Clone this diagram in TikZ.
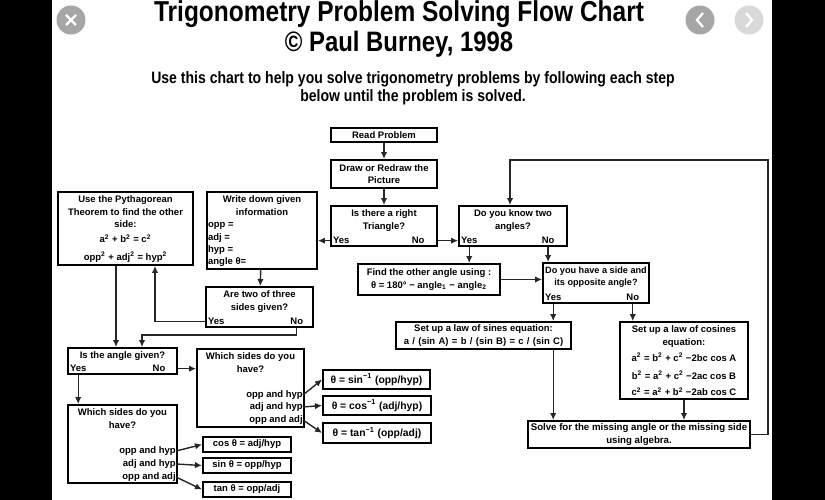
\documentclass[tikz,border=0pt]{standalone}
\usepackage{fontspec}
\setmainfont{Liberation Sans}
\newfontfamily\titlefont[FakeStretch=0.85]{Liberation Sans}
\usepackage{tikz}
\usetikzlibrary{arrows.meta,positioning}

\tikzset{
  box/.style={rectangle, draw, line width=1.1pt, inner sep=0pt},
  txt/.style={inner sep=0pt, font=\fontsize{5.4}{7.1}\selectfont\bfseries, align=center},
  txtbig/.style={txt, font=\fontsize{5.9}{7.1}\selectfont\bfseries},
  heading/.style={inner sep=0pt, font=\titlefont\fontsize{#1}{#1}\selectfont\bfseries},
  conn/.style={draw, line width=0.8pt, black!85, -{Latex[length=4pt,width=3.7pt]}},
  roundbtn/.style={circle, fill=#1, minimum size=0.58cm, inner sep=0pt},
  icon/.style={white, line width=1.3pt}
}

\begin{document}
\begin{tikzpicture}[x=0.02cm, y=-0.02cm]
    \useasboundingbox (0,0) rectangle (825,500);

    % Page
    \fill[black] (0,0) rectangle (825,500);
    \fill[white] (52,0) rectangle (772,500);

    % Buttons
    \node[roundbtn=black!35] (closebtn) at (71,20) {};
    \node[roundbtn=black!35] (prevbtn) at (700,20) {};
    \node[roundbtn=black!15] (nextbtn) at (749,20) {};
    \draw[icon] ([shift={(-5,-5)}]closebtn.center) -- ([shift={(5,5)}]closebtn.center);
    \draw[icon] ([shift={(-5,5)}]closebtn.center) -- ([shift={(5,-5)}]closebtn.center);
    \draw[icon] ([shift={(3,-7)}]prevbtn.center) -- ([shift={(-3,0)}]prevbtn.center) -- ([shift={(3,7)}]prevbtn.center);
    \draw[icon] ([shift={(-3,-7)}]nextbtn.center) -- ([shift={(3,0)}]nextbtn.center) -- ([shift={(-3,7)}]nextbtn.center);

    % Headings
    \node[heading=16.4] (title) at (399,14.5) {Trigonometry Problem Solving Flow Chart};
    \node[heading=16] (owner) at (399,44) {© Paul Burney, 1998};
    \node[heading=9.4] (introa) at (413,79) {Use this chart to help you solve trigonometry problems by following each step};
    \node[heading=9.4] (introb) at (413,97) {below until the problem is solved.};

    % Boxes, middle and right
    \node[box, minimum width=2.12cm, minimum height=0.28cm] (read) at (384,135) {};
    \node[box, minimum width=2.12cm, minimum height=0.56cm] (redraw) at (384,174) {};
    \node[box, minimum width=2.12cm, minimum height=0.8cm] (righttri) at (384,226) {};
    \node[box, minimum width=2.16cm, minimum height=0.8cm] (twoang) at (513,226) {};
    \node[box, minimum width=2.84cm, minimum height=0.62cm] (otherang) at (429,279.5) {};
    \node[box, minimum width=2.12cm, minimum height=0.8cm] (sideopp) at (596,283) {};
    \node[box, minimum width=3.5cm, minimum height=0.54cm] (sines) at (483.5,335.5) {};
    \node[box, minimum width=2.56cm, minimum height=1.54cm] (cosines) at (684,360.5) {};
    \node[box, minimum width=4.44cm, minimum height=0.54cm] (solve) at (639,434.5) {};

    % Boxes, left
    \node[box, minimum width=2.7cm, minimum height=1.46cm] (pyth) at (125.5,228.5) {};
    \node[box, minimum width=2.2cm, minimum height=1.54cm] (given) at (262,230.5) {};
    \node[box, minimum width=2.14cm, minimum height=0.8cm] (twosides) at (259.5,307) {};
    \node[box, minimum width=2.18cm, minimum height=0.52cm] (angle) at (122.5,361) {};
    \node[box, minimum width=2.14cm, minimum height=1.56cm] (whichr) at (250.5,388) {};
    \node[box, minimum width=2.18cm, minimum height=1.56cm] (whichl) at (122.5,444) {};

    % Result boxes
    \node[box, minimum width=2.14cm, minimum height=0.38cm, txtbig] (asin) at (376.5,379.5) {θ = sin\textsuperscript{−1} (opp/hyp)};
    \node[box, minimum width=2.16cm, minimum height=0.38cm, txtbig] (acos) at (377,405.5) {θ = cos\textsuperscript{−1} (adj/hyp)};
    \node[box, minimum width=2.16cm, minimum height=0.4cm, txtbig] (atan) at (377,433) {θ = tan\textsuperscript{−1} (opp/adj)};
    \node[box, minimum width=1.76cm, minimum height=0.3cm, txt] (cosb) at (247,444.5) {cos θ = adj/hyp};
    \node[box, minimum width=1.76cm, minimum height=0.3cm, txt] (sinb) at (247,465.5) {sin θ = opp/hyp};
    \node[box, minimum width=1.76cm, minimum height=0.3cm, txt] (tanb) at (247,489.5) {tan θ = opp/adj};

    % Texts
    \node[txt] (readt) at (read) {Read Problem};
    \node[txt] (redrawt) at (redraw) {Draw or Redraw the\\Picture};
    \node[txt, below=2.5pt of righttri.north] (righttrit) {Is there a right\\Triangle?};
    \node[txt, below=2.5pt of twoang.north] (twoangt) {Do you know two\\angles?};
    \node[txt] (otherangt) at (otherang) {Find the other angle using :\\θ = 180° − angle\textsubscript{1} − angle\textsubscript{2}};
    \node[txt, font=\fontsize{5.2}{7.1}\selectfont\bfseries, below=2.5pt of sideopp.north] (sideoppt) {Do you have a side and\\its opposite angle?};
    \node[txt] (sinest) at (sines) {Set up a law of sines equation:\\\spaceskip=1.9pt a / (sin A) = b / (sin B) = c / (sin C)};
    \node[txt, below=2.5pt of cosines.north] (cosinest) {Set up a law of cosines\\equation:\\[2.2pt]a\textsuperscript{2} = b\textsuperscript{2} + c\textsuperscript{2} −2bc cos A\\[3pt]b\textsuperscript{2} = a\textsuperscript{2} + c\textsuperscript{2} −2ac cos B\\[2.2pt]c\textsuperscript{2} = a\textsuperscript{2} + b\textsuperscript{2} −2ab cos C};
    \node[txt, font=\fontsize{5.5}{7.1}\selectfont\bfseries] (solvet) at (solve) {Solve for the missing angle or the missing side\\using algebra.};
    \node[txt, below=2.5pt of pyth.north] (pytht) {Use the Pythagorean\\Theorem to find the other\\side:\\[1.5pt]a\textsuperscript{2} + b\textsuperscript{2} = c\textsuperscript{2}\\[3pt]opp\textsuperscript{2} + adj\textsuperscript{2} = hyp\textsuperscript{2}};
    \node[txt, below=2.5pt of given.north] (givent) {Write down given\\information};
    \node[txt, align=left, above right=1.5pt and 1pt of given.south west] (givenl) {opp =\\adj =\\hyp =\\angle θ=};
    \node[txt, below=2.5pt of twosides.north] (twosidest) {Are two of three\\sides given?};
    \node[txt, below=2.5pt of angle.north] (anglet) {Is the angle given?};
    \node[txt, below=2.5pt of whichr.north] (whichrt) {Which sides do you\\have?};
    \node[txt, below=2.5pt of whichl.north] (whichlt) {Which sides do you\\have?};

    % Yes and No
    \node[txt, above right=1.5pt and 1.5pt of righttri.south west] (righttriyes) {Yes};
    \node[txt, above left=1.5pt and 7.5pt of righttri.south east] (righttrino) {No};
    \node[txt, above right=1.5pt and 1.5pt of twoang.south west] (twoangyes) {Yes};
    \node[txt, above left=1.5pt and 7.5pt of twoang.south east] (twoangno) {No};
    \node[txt, above right=1.5pt and 1.5pt of sideopp.south west] (sideoppyes) {Yes};
    \node[txt, above left=1.5pt and 6pt of sideopp.south east] (sideoppno) {No};
    \node[txt, above right=1.5pt and 1.5pt of twosides.south west] (twosidesyes) {Yes};
    \node[txt, above left=1.5pt and 6pt of twosides.south east] (twosidesno) {No};
    \node[txt, above right=1.5pt and 1.5pt of angle.south west] (angleyes) {Yes};
    \node[txt, above left=1.5pt and 7pt of angle.south east] (angleno) {No};

    % Side names
    \node[txt, anchor=east] (rhyp) at (303,395) {opp and hyp};
    \node[txt, anchor=east] (radj) at (303,407) {adj and hyp};
    \node[txt, anchor=east] (ropp) at (303,420) {opp and adj};
    \node[txt, anchor=east] (lhyp) at (176,451) {opp and hyp};
    \node[txt, anchor=east] (ladj) at (176,464) {adj and hyp};
    \node[txt, anchor=east] (lopp) at (176,477) {opp and adj};

    % Connectors
    \draw[conn] (read) -- (redraw);
    \draw[conn] (redraw) -- (righttri);
    \draw[conn] (righttri.west |- righttriyes) -- (given.east |- righttriyes);
    \draw[conn] (righttri.east |- righttrino) -- (twoang.west |- righttrino);
    \draw[conn] (twoangyes |- twoang.south) -- (twoangyes |- otherang.north);
    \draw[conn] (twoangno |- twoang.south) -- (twoangno |- sideopp.north);
    \draw[conn] (otherang.east) -- (sideopp.west |- otherang.east);
    \draw[conn] (sideoppyes |- sideopp.south) -- (sideoppyes |- sines.north);
    \draw[conn] (sideoppno |- sideopp.south) -- (sideoppno |- cosines.north);
    \draw[conn] (sideoppyes |- sines.south) -- (sideoppyes |- solve.north);
    \draw[conn] (cosines.south) -- (cosines.south |- solve.north);
    \coordinate (loopcorner) at (768,160);
    \draw[conn] (solve.east) -| (loopcorner) -| ([xshift=-0.06cm]twoang.north);

    \draw[conn] (given) -- (twosides);
    \draw[conn] (twosides.west |- twosidesyes) -| ([xshift=0.59cm]pyth.south);
    \draw[conn] ([xshift=-0.19cm]pyth.south) -- ([xshift=-0.19cm]pyth.south |- angle.north);
    \draw[conn] (twosidesno |- twosides.south) -- ++(0,7) -| ([xshift=0.39cm]angle.north);
    \draw[conn] (angle.east |- angleno) -- (whichr.west |- angleno);
    \draw[conn] (angleyes |- angle.south) -- (angleyes |- whichl.north);

    \draw[conn] (rhyp.east) -- (asin.west);
    \draw[conn] (radj.east) -- (acos.west);
    \draw[conn] (ropp.east) -- (atan.west);
    \draw[conn] (lhyp.east) -- (cosb.west);
    \draw[conn] (ladj.east) -- (sinb.west);
    \draw[conn] (lopp.east) -- (tanb.west);

\end{tikzpicture}
\end{document}
